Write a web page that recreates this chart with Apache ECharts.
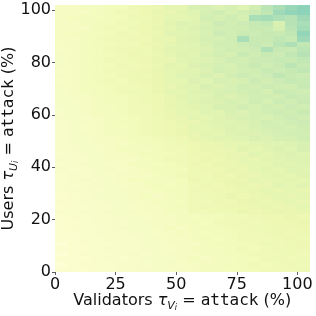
<!DOCTYPE html>
<html><head><meta charset="utf-8">
<script src="https://cdn.jsdelivr.net/npm/echarts@6/dist/echarts.min.js"></script>
<style>html,body{margin:0;padding:0;background:#fff}#c{width:316px;height:316px}</style>
</head><body><div id="c"></div>
<script>
// validators attack share (%) — cell lower edges
const xValues = [0,5,10,15,20,25,30,35,40,45,50,55,60,65,70,75,80,85,90,95,100];
// users attack share (%) — cell lower edges
const yValues = [0,2,4,6,8,10,12,14,16,18,20,22,24,26,28,30,32,34,36,38,40,42,44,46,48,50,52,54,56,58,60,62,64,66,68,70,72,74,76,78,80,82,84,86,88,90,92,94,96,98,100];
const xTicks = [0,25,50,75,100];
const yTicks = [0,20,40,60,80,100];
// colour level (0-100 on colormap), rows listed from y=100 (top) down to y=0
const zRowsTopDown = [
[7,7,8,8,9,9,11,12,13,15,15,19,20,18,20,17,21,27,30,33,35],
[7,7,7,8,9,10,10,12,14,14,16,17,20,22,19,21,23,26,32,34,35],
[7,8,8,8,9,9,11,11,13,15,15,16,21,20,22,20,30,31,29,28,32],
[7,7,8,9,9,10,10,12,13,16,18,17,19,23,21,23,25,26,19,28,30],
[7,7,7,9,10,9,11,12,14,15,17,18,20,21,22,22,24,24,20,27,31],
[7,8,8,8,9,11,10,12,13,16,16,17,19,23,21,24,23,25,24,26,34],
[7,7,8,9,10,10,11,11,14,14,17,18,20,20,22,30,24,24,26,25,32],
[7,7,8,9,9,10,10,12,13,15,16,17,19,21,21,23,25,23,27,29,26],
[6,7,8,8,10,11,11,11,14,16,16,17,18,20,22,22,23,29,25,24,27],
[7,7,8,9,9,10,12,11,13,15,17,16,19,21,20,24,22,24,23,26,28],
[6,7,8,9,10,10,11,12,14,14,16,17,18,19,22,21,23,23,25,24,26],
[7,7,8,9,9,11,10,11,13,16,15,18,19,20,19,22,24,22,24,27,25],
[6,7,8,8,10,10,11,12,14,15,16,16,18,21,20,21,22,24,23,25,26],
[7,7,8,9,9,10,11,11,13,15,17,17,19,18,21,23,21,23,26,24,23],
[6,7,8,9,10,9,11,12,13,15,15,18,17,20,19,20,23,21,23,25,24],
[7,7,8,8,9,10,10,11,13,14,16,16,19,18,20,22,21,23,22,21,25],
[6,7,8,9,9,10,11,11,13,15,15,17,18,19,20,21,22,20,24,23,22],
[6,7,7,8,9,9,10,11,12,14,16,16,17,19,18,20,21,22,21,24,23],
[6,6,7,8,9,9,10,11,12,14,15,17,18,18,20,19,22,20,23,22,24],
[6,6,7,8,8,9,10,10,12,14,15,16,17,19,19,21,20,22,21,23,22],
[5,6,7,8,8,9,10,10,12,13,15,15,17,16,19,18,20,21,23,22,24],
[6,6,6,7,8,8,9,10,11,13,14,16,15,17,18,19,20,19,21,23,22],
[5,6,7,7,8,9,9,10,11,12,14,14,16,17,17,18,19,21,20,22,23],
[5,6,6,7,8,8,9,10,11,12,13,15,15,16,18,17,19,20,21,20,22],
[5,6,7,7,8,8,9,10,11,12,13,14,16,15,17,18,18,19,20,21,21],
[5,6,6,7,7,8,9,9,10,11,12,14,15,16,16,17,19,18,20,20,22],
[5,6,6,7,7,7,8,9,9,10,11,12,13,14,15,15,16,17,17,18,19],
[5,5,6,6,7,8,8,8,9,10,10,12,13,13,14,16,15,16,18,17,19],
[4,5,6,6,7,7,8,9,9,9,10,12,12,13,14,14,16,15,17,18,17],
[5,5,5,6,7,7,7,8,9,10,10,11,13,12,14,15,14,16,16,17,18],
[4,5,6,6,6,7,8,8,8,9,10,12,12,13,13,14,15,15,17,16,17],
[5,4,5,6,7,6,7,8,9,9,9,11,12,12,14,13,15,16,15,17,16],
[4,5,5,6,6,7,7,7,8,9,10,11,11,13,12,14,14,15,16,15,17],
[4,5,6,5,6,7,8,8,8,8,9,12,11,12,13,13,15,14,15,16,15],
[4,4,5,6,6,6,7,8,9,8,9,10,12,11,13,14,13,14,16,15,16],
[4,5,5,5,6,7,7,7,8,9,9,11,11,12,12,13,14,15,14,15,14],
[3,4,5,6,6,6,7,8,7,8,9,10,11,11,13,12,13,14,15,14,15],
[4,4,5,5,6,6,7,7,8,8,8,10,10,12,11,13,14,13,14,15,14],
[3,4,4,5,5,6,6,7,7,8,9,10,11,11,12,12,13,14,13,14,15],
[4,4,5,5,6,6,7,7,7,8,8,10,10,11,11,13,12,13,14,13,14],
[3,4,4,5,5,6,6,6,7,7,8,8,9,9,10,10,11,12,12,13,12],
[3,3,4,5,5,5,6,7,7,7,8,9,8,10,10,11,10,11,12,12,13],
[3,4,4,4,5,6,6,6,7,8,7,8,9,9,10,10,11,11,11,12,12],
[3,3,4,5,5,5,6,6,6,7,8,8,8,9,9,10,10,11,12,11,12],
[3,3,4,4,5,5,5,6,7,7,7,8,9,8,9,10,10,10,11,12,11],
[2,3,4,4,4,5,5,6,6,7,7,7,8,9,9,9,10,11,10,11,12],
[3,3,3,4,5,5,5,6,6,6,7,8,8,8,9,10,9,10,11,11,11],
[2,3,4,4,4,5,6,5,6,7,7,7,8,8,9,9,10,10,10,11,10],
[3,3,3,4,5,4,5,6,6,6,7,8,7,8,8,9,9,10,11,10,11],
[2,3,4,4,4,5,5,5,6,7,6,7,8,8,9,9,10,9,10,11,10],
[3,3,3,4,4,5,5,6,6,6,7,7,8,8,8,9,9,10,10,10,11]
];
const xStep = 5, yStep = 2;
const ylgnbu = ['#ffffd9','#edf8b1','#c7e9b4','#7fcdbb','#41b6c4','#1d91c0','#225ea8','#253494','#081d58'];

const data = [];
zRowsTopDown.forEach(function(row, r){
  const y = yValues[yValues.length - 1 - r];
  row.forEach(function(v, c){ data.push([xValues[c], y, v]); });
});

const txt = '#111';
function richFor(){
  return {
    n: {fontFamily:'DejaVu Sans', fontSize:16, color:txt, lineHeight:22},
    t: {fontFamily:'DejaVu Sans', fontStyle:'italic', fontSize:16, color:txt, lineHeight:22},
    s: {fontFamily:'DejaVu Sans', fontStyle:'italic', fontSize:11, color:txt, verticalAlign:'bottom', lineHeight:15},
    ss: {fontFamily:'DejaVu Sans', fontStyle:'italic', fontSize:8, color:txt, verticalAlign:'bottom', lineHeight:9},
    m: {fontFamily:'DejaVu Sans Mono', fontSize:16, color:txt, lineHeight:22}
  };
}

const chart = echarts.init(document.getElementById('c'), null, {renderer:'canvas'});
chart.setOption({
  animation:false,
  backgroundColor:'#fff',
  grid:{left:55, right:6.5, top:5, bottom:44, containLabel:false, outerBoundsMode:'none'},
  visualMap:{show:false, type:'continuous', min:0, max:100, dimension:2, seriesIndex:0, inRange:{color:ylgnbu}},
  xAxis:{
    type:'value', min:0, max:xValues[xValues.length-1]+xStep,
    splitLine:{show:false}, axisLine:{show:false},
    axisTick:{show:true, length:3, customValues:xTicks, lineStyle:{color:'#333', width:0.8}},
    axisLabel:{customValues:xTicks, fontFamily:'DejaVu Sans', fontSize:16, color:txt, margin:5},
    name:'{n|Validators }{t|τ}{s|V}{ss|i}{n| = }{m|attack}{n| (%)}',
    nameLocation:'middle', nameGap:18, nameMoveOverlap:false,
    nameTextStyle:{fontFamily:'DejaVu Sans', fontSize:16, color:txt, rich:richFor()}
  },
  yAxis:{
    type:'value', min:0, max:yValues[yValues.length-1]+yStep,
    splitLine:{show:false}, axisLine:{show:false},
    axisTick:{show:true, length:3, customValues:yTicks, lineStyle:{color:'#333', width:0.8}},
    axisLabel:{customValues:yTicks, fontFamily:'DejaVu Sans', fontSize:16, color:txt, margin:4},
    name:'{n|Users }{t|τ}{s|U}{ss|i}{n| = }{m|attack}{n| (%)}',
    nameLocation:'middle', nameGap:35, nameMoveOverlap:false,
    nameTextStyle:{fontFamily:'DejaVu Sans', fontSize:16, color:txt, rich:richFor()}
  },
  series:[{
    type:'custom',
    data:data,
    encode:{x:0, y:1},
    renderItem:function(params, api){
      const x = api.value(0), y = api.value(1);
      const p0 = api.coord([x, y + yStep]);
      const p1 = api.coord([x + xStep, y]);
      const x0 = Math.round(p0[0]), x1 = Math.round(p1[0]);
      const y0 = Math.round(p0[1]), y1 = Math.round(p1[1]);
      return {type:'rect', shape:{x:x0, y:y0, width:x1-x0, height:y1-y0}, style:{fill:api.visual('color')}};
    }
  }]
});
</script></body></html>
